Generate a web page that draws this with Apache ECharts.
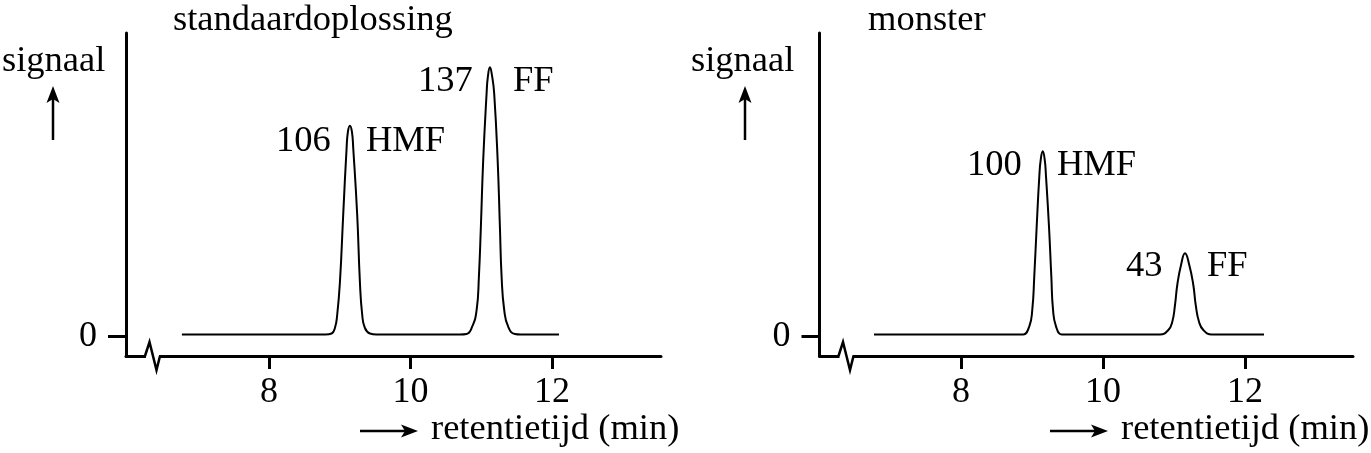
<!DOCTYPE html>
<html><head><meta charset="utf-8">
<script src="https://cdn.jsdelivr.net/npm/echarts@6/dist/echarts.min.js"></script>
<style>html,body{margin:0;padding:0;background:#fff}#c{width:1371px;height:453px}</style>
</head><body><div id="c"></div>
<script>
// ---- data ----
const xTicks = [8, 10, 12];
const yTicks = [0];
const panelTitles = ['standaardoplossing', 'monster'];
const yAxisName = 'signaal';
const xAxisName = 'retentietijd (min)';

// standaardoplossing chromatogram (time in min, signal in arbitrary units)
const stdTime = [6.77, 8.80, 8.886, 8.933, 8.965, 9.004, 9.050, 9.098, 9.117, 9.145, 9.173, 9.192, 9.248, 9.286, 9.319, 9.357, 9.428, 9.52,
  10.70, 10.794, 10.873, 10.936, 10.968, 10.996, 11.029, 11.077, 11.095, 11.124, 11.156, 11.184, 11.233, 11.265, 11.289, 11.326, 11.382, 11.477, 11.56, 12.10];
const stdSignal = [2, 2, 3, 8.5, 21.5, 54.8, 121.5, 188.2, 204.8, 210.8, 204.8, 188.2, 121.5, 54.8, 21.5, 8.5, 3, 2,
  2, 2.5, 9.8, 26.5, 59.8, 109.8, 176.5, 243.2, 259.8, 269.2, 259.8, 243.2, 176.5, 109.8, 59.8, 26.5, 9.8, 2.5, 2, 2];

// monster chromatogram
const monTime = [6.775, 8.80, 8.877, 8.962, 9.004, 9.032, 9.066, 9.103, 9.123, 9.151, 9.179, 9.197, 9.239, 9.272, 9.296, 9.338, 9.418, 9.50,
  10.72, 10.803, 10.920, 10.976, 11.014, 11.046, 11.099, 11.155, 11.215, 11.272, 11.306, 11.352, 11.413, 11.531, 11.62, 12.268];
const monSignal = [2, 2, 2, 10.2, 26.8, 60.2, 110.2, 160.2, 176.8, 185.2, 176.8, 160.2, 110.2, 60.2, 26.8, 10.2, 2, 2,
  2, 2, 6.5, 14.8, 31.5, 51.5, 71.5, 83.2, 71.5, 51.5, 31.5, 14.8, 6.5, 2, 2, 2];

const stdPeakLabels = [['106', 'HMF'], ['137', 'FF']];
const monPeakLabels = [['100', 'HMF'], ['43', 'FF']];

// ---- chart ----
const FONT = '36.5px "Liberation Serif", "Times New Roman", serif';
const INK = '#000';
const chart = echarts.init(document.getElementById('c'), null, {renderer: 'canvas'});

function pairs(t, v) { return t.map((x, i) => [x, v[i]]); }

function xAxisCfg(gi, min, max) {
  return {
    gridIndex: gi, type: 'value', min: min, max: max,
    axisLine: {onZero: false, lineStyle: {color: INK, width: 3}},
    axisTick: {customValues: xTicks, length: 13, lineStyle: {color: INK, width: 3}},
    axisLabel: {customValues: xTicks, margin: 19, color: INK, fontSize: 36, fontFamily: 'Liberation Serif'},
    splitLine: {show: false}
  };
}
function yAxisCfg(gi) {
  return {
    gridIndex: gi, type: 'value', min: -19.5, max: 303.5,
    axisLine: {onZero: false, lineStyle: {color: INK, width: 3}},
    axisTick: {customValues: yTicks, length: 18, lineStyle: {color: INK, width: 3}},
    axisLabel: {customValues: yTicks, margin: 29, color: INK, fontSize: 36, fontFamily: 'Liberation Serif'},
    splitLine: {show: false}
  };
}
function txt(x, y, s, align) {
  return {type: 'text', x: x, y: y, silent: true,
    style: {text: s, font: FONT, fill: INK, textAlign: align || 'left', textVerticalAlign: 'middle'}};
}
function hArrow(x1, x2, y) {
  return [
    {type: 'line', shape: {x1: x1, y1: y, x2: x2 - 10, y2: y}, style: {stroke: INK, lineWidth: 2.5}},
    {type: 'polygon', shape: {points: [[x2 - 17, y - 6.5], [x2, y], [x2 - 17, y + 6.5], [x2 - 13, y]]}, style: {fill: INK}}
  ];
}
function vArrow(x, yTop, yBot) {
  return [
    {type: 'line', shape: {x1: x, y1: yBot, x2: x, y2: yTop + 10}, style: {stroke: INK, lineWidth: 2.5}},
    {type: 'polygon', shape: {points: [[x - 6.5, yTop + 17], [x, yTop], [x + 6.5, yTop + 17], [x, yTop + 13]]}, style: {fill: INK}}
  ];
}
function zig(xa, y) {
  return [
    {type: 'rect', shape: {x: xa + 1, y: y - 3, width: 13, height: 6}, style: {fill: '#fff'}, z: 10},
    {type: 'polyline', shape: {points: [[xa, y], [xa + 4.5, y - 14], [xa + 11.5, y + 14], [xa + 15, y]]},
      style: {stroke: INK, lineWidth: 2.5, fill: null}, z: 11}
  ];
}

const graphics = [
  txt(173, 20, panelTitles[0]),
  txt(2, 61, yAxisName),
  txt(418, 81, stdPeakLabels[1][0]), txt(513, 81, stdPeakLabels[1][1]),
  txt(276, 141, stdPeakLabels[0][0]), txt(366, 141, stdPeakLabels[0][1]),
  txt(431, 429, xAxisName),
  ...hArrow(360, 418, 431),
  ...vArrow(53, 86, 140),
  ...zig(145, 356),

  txt(868, 20, panelTitles[1]),
  txt(691, 61, yAxisName),
  txt(967, 165, monPeakLabels[0][0]), txt(1057, 165, monPeakLabels[0][1]),
  txt(1126, 266, monPeakLabels[1][0]), txt(1207, 266, monPeakLabels[1][1]),
  txt(1121, 429, xAxisName),
  ...hArrow(1050, 1108, 431),
  ...vArrow(745, 86, 140),
  ...zig(838.5, 356)
];

chart.setOption({
  animation: false,
  backgroundColor: '#fff',
  grid: [
    {left: 126, top: 33, width: 535, height: 323, containLabel: false},
    {left: 819.5, top: 33, width: 533.5, height: 323, containLabel: false}
  ],
  xAxis: [xAxisCfg(0, 5.98, 13.542), xAxisCfg(1, 6.007, 13.521)],
  yAxis: [yAxisCfg(0), yAxisCfg(1)],
  series: [
    {type: 'line', xAxisIndex: 0, yAxisIndex: 0, data: pairs(stdTime, stdSignal), showSymbol: false,
      smooth: 0.5, lineStyle: {color: INK, width: 2}},
    {type: 'line', xAxisIndex: 1, yAxisIndex: 1, data: pairs(monTime, monSignal), showSymbol: false,
      smooth: 0.5, lineStyle: {color: INK, width: 2}}
  ],
  graphic: graphics
});
</script></body></html>
